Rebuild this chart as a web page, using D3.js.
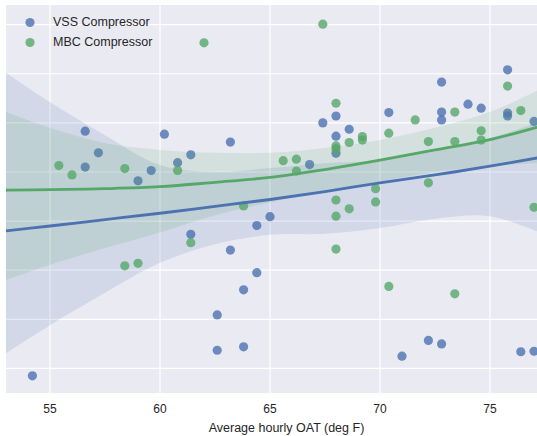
<!DOCTYPE html>
<html><head><meta charset="utf-8">
<script src="https://cdn.jsdelivr.net/npm/d3@7/dist/d3.min.js"></script>
<style>
body{margin:0;background:#fff;}
svg text{font-family:"Liberation Sans",Arial,Helvetica,sans-serif;fill:#262626;}
</style>
</head><body>
<svg id="chart" width="537" height="436"></svg>
<script>
// ---- data ----
const xTicks = [55, 60, 65, 70, 75];
const yGrid = [0, 1, 2, 3, 4, 5, 6, 7];
const seriesNames = ["VSS Compressor", "MBC Compressor"];
const seriesColors = ["#4C72B0", "#55A868"];
const xLabel = "Average hourly OAT (deg F)";

// scatter points
const vssX = [54.2,56.6,57.2,56.6,59.0,59.6,60.2,60.8,61.4,63.2,61.4,63.2,64.4,65.0,64.4,63.8,62.6,62.6,63.8,66.8,67.4,68.0,68.0,68.0,68.6,70.4,71.0,72.2,72.8,72.8,72.8,72.8,74.0,74.6,75.8,75.8,75.8,77.0,76.4,77.0];
const vssY = [-0.15,4.83,4.39,4.10,3.82,4.03,4.77,4.19,4.35,4.61,2.73,2.41,2.91,3.09,1.95,1.60,1.09,0.37,0.44,4.15,5.00,5.14,4.73,4.38,4.87,5.21,0.25,0.57,0.50,5.83,5.22,5.06,5.38,5.30,6.08,5.20,5.14,5.03,0.34,0.35];

const mbcX = [62.0,55.4,56.0,58.4,60.8,61.4,58.4,59.0,63.8,67.4,68.0,68.0,68.0,68.6,69.2,69.2,70.4,65.6,66.2,66.2,69.8,69.8,68.0,68.6,68.0,68.0,70.4,73.4,77.0,71.6,72.2,72.2,73.4,73.4,74.6,74.6,75.8,76.4];
const mbcY = [6.63,4.13,3.94,4.07,4.03,2.56,2.09,2.14,3.31,7.01,5.40,4.53,4.47,4.60,4.72,4.65,4.79,4.23,4.26,4.02,3.66,3.39,3.43,3.25,3.10,2.43,1.67,1.52,3.28,5.06,4.62,3.78,5.22,4.62,4.84,4.65,5.75,5.25];

// regression fits and 95% confidence bands
const fitX    = [53.0, 55.0, 57.5, 60.0, 62.5, 65.0, 67.5, 70.0, 72.5, 75.0, 77.2];
const vssFit  = [2.80, 2.90, 3.03, 3.16, 3.30, 3.44, 3.60, 3.78, 3.94, 4.12, 4.29];
const vssHi   = [6.02, 5.42, 4.75, 4.14, 4.00, 4.08, 4.18, 4.24, 4.45, 4.69, 5.02];
const vssLo   = [0.31, 0.88, 1.54, 2.15, 2.53, 2.72, 2.74, 2.86, 3.05, 3.10, 2.78];
const mbcFit  = [3.63, 3.64, 3.66, 3.70, 3.79, 3.89, 4.05, 4.24, 4.45, 4.66, 4.92];
const mbcHi   = [5.22, 4.90, 4.59, 4.45, 4.39, 4.39, 4.49, 4.65, 4.90, 5.22, 5.67];
const mbcLo   = [1.80, 2.11, 2.45, 2.77, 3.12, 3.38, 3.59, 3.80, 4.00, 4.12, 4.18];

// ---- layout ----
const svg = d3.select("#chart");
const plot = {left: 6, top: 5, right: 567, bottom: 393};
const x = d3.scaleLinear().domain([53.0, 78.5]).range([plot.left, plot.right]);
const y = d3.scaleLinear().domain([-0.5, 7.4]).range([plot.bottom, plot.top]);

svg.append("defs").append("clipPath").attr("id", "clip")
  .append("rect").attr("x", plot.left).attr("y", plot.top)
  .attr("width", plot.right - plot.left).attr("height", plot.bottom - plot.top);

svg.append("rect").attr("x", plot.left).attr("y", plot.top)
  .attr("width", plot.right - plot.left).attr("height", plot.bottom - plot.top)
  .attr("fill", "#EAEAF2");

const g = svg.append("g").attr("clip-path", "url(#clip)");

// grid
g.selectAll("line.vg").data(xTicks).join("line").attr("class", "vg")
  .attr("x1", d => x(d)).attr("x2", d => x(d))
  .attr("y1", plot.top).attr("y2", plot.bottom)
  .attr("stroke", "#fff").attr("stroke-width", 1.2);
g.selectAll("line.hg").data(yGrid).join("line").attr("class", "hg")
  .attr("y1", d => y(d)).attr("y2", d => y(d))
  .attr("x1", plot.left).attr("x2", plot.right)
  .attr("stroke", "#fff").attr("stroke-width", 1.2);

const series = [
  {name: seriesNames[0], color: seriesColors[0], xs: vssX, ys: vssY, fit: vssFit, hi: vssHi, lo: vssLo},
  {name: seriesNames[1], color: seriesColors[1], xs: mbcX, ys: mbcY, fit: mbcFit, hi: mbcHi, lo: mbcLo}
];

const area = d3.area().curve(d3.curveCatmullRom)
  .x(d => x(d.x)).y0(d => y(d.lo)).y1(d => y(d.hi));
const line = d3.line().curve(d3.curveCatmullRom)
  .x(d => x(d.x)).y(d => y(d.y));

series.forEach(s => {
  s.rows = fitX.map((fx, i) => ({x: fx, y: s.fit[i], lo: s.lo[i], hi: s.hi[i]}));
});

// scatter + bands (in order of plotting)
series.forEach(s => {
  g.append("g").selectAll("circle").data(d3.zip(s.xs, s.ys)).join("circle")
    .attr("cx", d => x(d[0])).attr("cy", d => y(d[1])).attr("r", 4.6)
    .attr("fill", s.color).attr("fill-opacity", 0.8);
  g.append("path").datum(s.rows).attr("d", area)
    .attr("fill", s.color).attr("fill-opacity", 0.15);
});
// regression lines on top
series.forEach(s => {
  g.append("path").datum(s.rows).attr("d", line)
    .attr("fill", "none").attr("stroke", s.color).attr("stroke-width", 2.8);
});

// x tick labels
svg.selectAll("text.xt").data(xTicks).join("text").attr("class", "xt")
  .attr("x", d => x(d)).attr("y", 413).attr("text-anchor", "middle")
  .attr("font-size", 12).text(d => d);
svg.append("text").attr("x", (plot.left + plot.right) / 2).attr("y", 432)
  .attr("text-anchor", "middle").attr("font-size", 12.5).text(xLabel);

// legend
const lg = svg.append("g");
series.forEach((s, i) => {
  lg.append("circle").attr("cx", 30).attr("cy", 22.5 + i * 20).attr("r", 4.6)
    .attr("fill", s.color).attr("fill-opacity", 0.8);
  lg.append("text").attr("x", 53).attr("y", 25.5 + i * 20.5)
    .attr("font-size", 12.5).text(s.name);
});
</script>
</body></html>
